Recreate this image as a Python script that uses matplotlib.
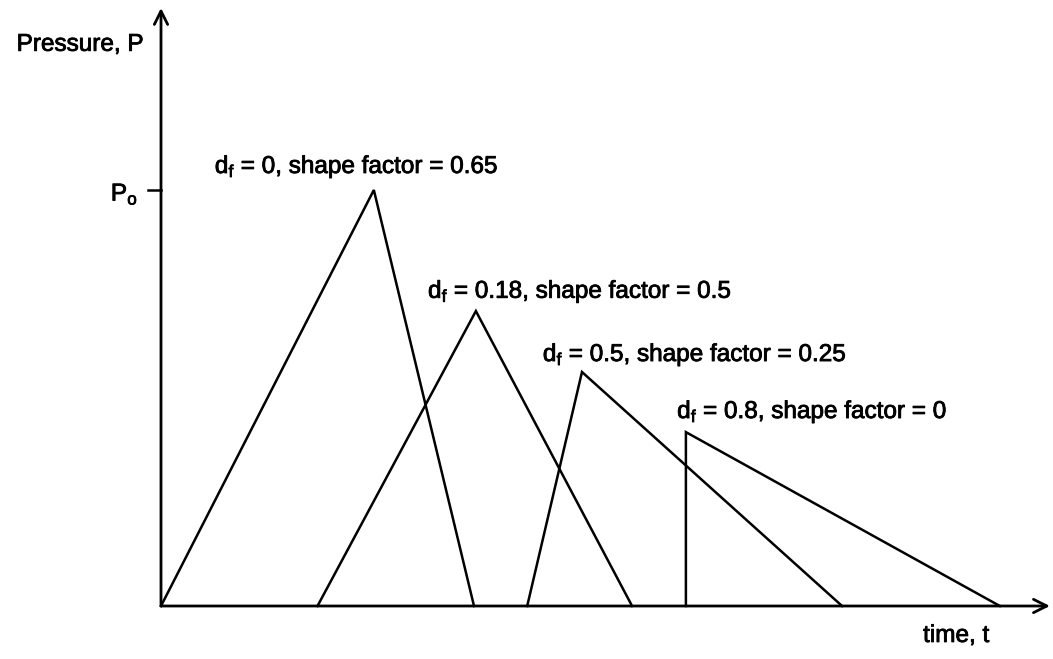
import matplotlib
matplotlib.use("Agg")
import matplotlib.pyplot as plt
import matplotlib.patheffects as pe

plt.rcParams['font.family'] = ['Liberation Sans', 'DejaVu Sans']
plt.rcParams['mathtext.fontset'] = 'custom'
plt.rcParams['mathtext.rm'] = 'Liberation Sans'

# time in units of the first pulse duration, pressure in units of P_o
starts = [0.0, 0.50, 1.17, 1.677]
peak_times = [0.68, 1.006, 1.345, 1.677]
ends = [1.0, 1.505, 2.176, 2.68]
peaks = [1.0, 0.709, 0.5625, 0.418]
labels = [
    r"d$_\mathregular{f}$ = 0, shape factor = 0.65",
    r"d$_\mathregular{f}$ = 0.18, shape factor = 0.5",
    r"d$_\mathregular{f}$ = 0.5, shape factor = 0.25",
    r"d$_\mathregular{f}$ = 0.8, shape factor = 0",
]
label_pos = [(0.172, 1.055), (0.853, 0.755), (1.22, 0.603), (1.649, 0.466)]

fig = plt.figure(figsize=(10.53, 6.59), dpi=100)
ax = fig.add_axes([0, 0, 1, 1])
ax.set_xlim(-161 / 313, (1053 - 161) / 313)
ax.set_ylim(-(659 - 606) / 416, 606 / 416)
ax.axis('off')

for s, pt, e, p in zip(starts, peak_times, ends, peaks):
    ax.plot([s, pt, e], [0, p, 0], color='black', lw=1.8, solid_joinstyle='miter')

fs = 17.5
heavy = [pe.withStroke(linewidth=0.6, foreground='black')]
for txt, (x, y) in zip(labels, label_pos):
    ax.text(x, y, txt, fontsize=fs, va='center', ha='left', path_effects=heavy)

# axes with arrow heads
arrow = dict(arrowstyle='->', lw=2.0, color='black', mutation_scale=24,
             shrinkA=0, shrinkB=0)
ax.annotate('', xy=(2.84, 0), xytext=(0, 0), arrowprops=arrow,
            annotation_clip=False)
ax.annotate('', xy=(0, 1.4375), xytext=(0, 0), arrowprops=arrow,
            annotation_clip=False)

# P_o tick
ax.plot([-0.04, 0], [1.0, 1.0], color='black', lw=1.8)
ax.text(-0.0735, 0.99, r"P$_\mathregular{o}$", fontsize=fs, ha='right', va='center',
        path_effects=heavy)

ax.text(-0.0575, 1.349, "Pressure, P", fontsize=fs, ha='right', va='center',
        path_effects=heavy)
ax.text(2.54, -0.072, "time, t", fontsize=fs, ha='center', va='center',
        path_effects=heavy)

fig.savefig("out.png", dpi=100)
